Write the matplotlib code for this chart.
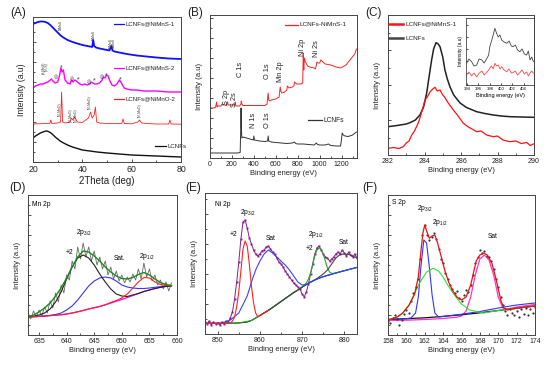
import matplotlib
matplotlib.use("Agg")
import matplotlib.pyplot as plt
from matplotlib.ticker import MultipleLocator, AutoMinorLocator

plt.rcParams["font.family"] = ["Liberation Sans", "DejaVu Sans"]
plt.rcParams["mathtext.fontset"] = "custom"
plt.rcParams["mathtext.rm"] = "Liberation Sans"
plt.rcParams["mathtext.default"] = "regular"

W, H = 554, 368

# ---------------- (A) XRD ----------------
xrd_lcnf_x = [20, 21, 22, 23, 24, 25, 25.5, 26, 27, 28, 29, 30, 31, 32, 34, 36, 38, 40, 43, 46, 50, 55, 60, 65, 70, 75, 80]
xrd_lcnf_y = [24, 26, 27.5, 29, 30, 30.8, 31, 30.7, 29.5, 27.5, 25, 23, 21, 19.5, 17, 15, 13.5, 12, 11, 10, 9, 8, 7, 6.5, 6, 5.5, 5]
xrd_nimno2_x = [20, 25, 26.8, 27.2, 27.6, 30, 31.2, 31.6, 32.0, 33, 35, 35.6, 36.2, 36.8, 37.3, 38, 40, 42.5, 43.3, 44,
                44.8, 45.3, 45.8, 47, 50, 56, 56.5, 57, 60, 62.5, 63.2, 64, 66, 70, 75, 75.5, 76, 80]
xrd_nimno2_y = [38, 38.5, 38.5, 42, 38.5, 39, 40, 70, 40, 39, 40, 44, 42, 45, 43, 40, 39.5, 44, 50, 44,
                47, 55, 40, 39, 38.5, 38.5, 43, 38.5, 38.2, 40, 42, 39, 38.5, 38, 38, 42, 38, 37.8]
xrd_nimns2_x = [20, 21, 22, 23, 24, 25, 26, 27, 27.5, 28, 29, 30, 30.8, 31.3, 31.8, 32.3, 33, 34, 35, 35.6, 36.3, 37, 38,
                39, 40, 41, 42, 43, 43.6, 44.3, 45, 46, 47, 48, 48.6, 49.2, 49.8, 50.5, 51, 52, 53, 54, 55, 55.6, 56.5,
                57, 58, 60, 62, 65, 70, 75, 80]
xrd_nimns2_y = [74, 76, 77, 78, 78, 79, 80, 82, 83, 81, 79, 80, 87, 94, 90, 92, 82, 79, 78, 82, 80, 82, 80,
                78, 77, 78, 77, 78, 80, 79, 78, 78, 79, 82, 85, 84, 87, 86, 82, 77, 76, 78, 82, 80, 76,
                74, 73, 72, 72, 71, 71, 70, 70]
xrd_nimns1_x = [20, 21, 22, 23, 24, 25, 26, 27, 28, 29, 30, 31, 32, 33, 34, 36, 38, 40, 42, 44, 44.4, 44.8, 45.5, 47,
                49, 51, 51.8, 52.2, 53, 55, 58, 62, 66, 70, 75, 80]
xrd_nimns1_y = [138, 139, 140, 140.5, 140.5, 140, 139, 137, 134.5, 132, 129.5, 127, 125, 123.5, 122, 120, 118.5, 117,
                116, 115, 122, 116, 114.5, 113.5, 112.5, 111.5, 116, 111.5, 110.5, 109.5, 108, 106.5, 105.5, 104.5,
                103.5, 103]
xrd_tags = [(31.2, 142, "NiMnS"), (44.5, 132, "NiMnS"), (51.6, 124, "NiMnS"), (52.6, 124, "NiMnS"),
            (24.3, 100, "(S,MnS)"), (25.5, 100, "(Ni,S)"), (31.0, 60, "(Ni,MnO)"), (35.4, 54, "(Ni,MnO)"),
            (37.2, 54, "(Ni,MnO)"), (43.0, 67, "(Ni,MnO)"), (63.2, 59, "(Ni,MnO)")]
xrd_circle = [(29.4, 85), (35.8, 83), (42.6, 80), (48.0, 85)]
xrd_star = [(31.4, 94), (38.5, 82), (45.0, 81), (49.8, 86), (55.2, 82)]

# ---------------- (B) XPS survey ----------------
surv_lcnf_x = [0, 50, 100, 150, 200, 250, 275, 280, 283, 286, 290, 300, 350, 395, 400, 405, 450, 500, 525, 530, 535, 560,
               600, 650, 700, 750, 770, 780, 800, 850, 900, 950, 970, 980, 1000, 1050, 1080, 1100, 1150, 1190, 1198,
               1205, 1215, 1230, 1260, 1300, 1335]
surv_lcnf_y = [5, 5, 5, 5, 5, 5, 5.5, 28, 50, 30, 20, 21, 19.5, 18, 22, 18, 17, 16.5, 17, 22, 17, 16,
               15.5, 15, 14.5, 15, 16, 14.5, 14, 14, 13.5, 13, 15, 13.5, 13, 13, 14, 12.5, 12, 12, 18,
               25, 23, 22, 21.5, 23, 26]
surv_nimns_x = [0, 30, 50, 60, 65, 70, 100, 110, 150, 160, 165, 200, 225, 230, 235, 270, 282, 285, 290, 300, 400, 500,
                520, 530, 535, 545, 560, 600, 630, 640, 645, 655, 680, 700, 705, 720, 750, 765, 770, 790, 830, 845,
                850, 855, 858, 862, 868, 875, 890, 910, 950, 960, 968, 975, 985, 1000, 1010, 1050, 1100, 1150, 1190,
                1240, 1290, 1320, 1335]
surv_nimns_y = [50, 50, 50.5, 56, 51, 52, 52, 54, 52.5, 56, 53, 53, 53, 56, 52, 52, 54, 57, 54, 52.5, 52.5, 52.5,
                54, 65, 58, 57, 58, 59, 61, 71, 67, 65, 66, 68, 72, 70, 71, 72, 76, 74, 74, 75,
                105, 88, 98, 100, 96, 95, 92, 91, 90, 89, 92, 96, 95, 95, 98, 94, 93, 91, 90,
                93, 100, 104, 109]
surv_peaks = [("S 2p", 152, 61), ("S 2s", 222, 58), ("C 1s", 275, 89), ("O 1s", 525, 87), ("Mn 2p", 640, 86),
              ("Ni 2p", 845, 111), ("Ni 2s", 975, 109), ("N 1s", 392, 38), ("O 1s", 525, 38)]

# ---------------- (C) C 1s ----------------
c1s_lcnf_x = [282, 282.5, 283.0, 283.2, 283.5, 283.75, 283.95, 284.12, 284.25, 284.39, 284.5, 284.63, 284.75, 284.85,
              285.0, 285.12, 285.25, 285.4, 285.6, 285.95, 286.3, 286.86, 287.3, 287.77, 288.2, 288.7, 289.3, 289.96]
c1s_lcnf_y = [28.3, 29.5, 31, 32.3, 35, 40, 48, 62, 78, 95, 106, 112.3, 111, 108.3, 98, 85, 76, 68, 60, 52, 47.5,
              43.3, 41.5, 40, 39, 38.3, 38, 37.7]
c1s_nimns_x = [282, 282.3, 282.6, 282.84, 283.0, 283.15, 283.3, 283.45, 283.66, 283.8, 284.03, 284.15, 284.3, 284.45,
               284.58, 284.7, 284.85, 285.0, 285.1, 285.3, 285.58, 285.8, 286.13, 286.4, 286.6, 286.86, 287.1, 287.4,
               287.77, 288.0, 288.3, 288.68, 289.0, 289.3, 289.6, 289.8, 289.96]
c1s_nimns_y = [6.7, 7.5, 6.5, 8.3, 12, 14, 20, 24, 32, 40, 55, 58, 63, 66, 67.7, 64, 65, 60, 58, 52, 45, 40, 31.7,
               28, 26, 23.3, 24, 20, 18.3, 19, 15, 13.3, 14, 11.5, 12.5, 9.5, 11]
n1s_lcnf_x = [393.9, 394.3, 394.8, 395.2, 395.7, 396.1, 396.6, 397.0, 397.5, 397.8, 398.0, 398.3, 398.6, 398.9, 399.2,
              399.5, 399.8, 400.1, 400.5, 401.0, 401.4, 401.8, 402.1, 402.5, 402.9, 403.3, 403.7, 404.1, 404.5, 404.8,
              405.1, 405.4, 405.7]
n1s_lcnf_y = [21.7, 26, 23.3, 19, 20, 26, 25, 22, 26.7, 30, 38.3, 44, 50, 56.7, 51.7, 48, 50, 45, 43, 41.7, 44, 39,
              38.3, 40, 35, 33.3, 36, 31, 30, 34, 25, 28, 23.3]
n1s_nimns_x = [393.9, 394.3, 394.8, 395.2, 395.7, 396.1, 396.6, 397.0, 397.5, 397.8, 398.0, 398.3, 398.6, 398.9, 399.2,
               399.5, 399.8, 400.1, 400.5, 401.0, 401.4, 401.8, 402.1, 402.5, 402.9, 403.3, 403.7, 404.1, 404.5,
               404.8, 405.1, 405.4, 405.7]
n1s_nimns_y = [10, 13, 9, 12, 8, 11.7, 14, 10, 13, 15, 17, 19, 16, 21.7, 19, 20, 16, 18.3, 15, 13.3, 16, 12, 12.3,
               14, 10, 12.3, 15, 11, 13, 9, 12, 14, 11.7]

# ---------------- (D) Mn 2p ----------------
mn_raw_x = [633.0, 633.5, 634.0, 634.5, 635.0, 635.5, 636.0, 636.5, 637.0, 637.5, 638.0, 638.5, 639.0, 639.5, 640.0,
            640.5, 641.0, 641.5, 642.0, 642.5, 643.0, 643.5, 644.0, 644.5, 645.0, 645.5, 646.0, 646.5, 647.0, 647.5,
            648.0, 648.5, 649.0, 649.5, 650.0, 650.5, 651.0, 651.5, 652.0, 652.5, 653.0, 653.5, 654.0, 654.5, 655.0,
            655.5, 656.0, 656.5, 657.0, 657.5, 658.0, 658.5, 659.0]
mn_raw_y = [22, 16, 24, 18, 25, 19, 28, 22, 34, 27, 42, 33, 50, 42, 60, 55, 74, 66, 88, 76, 92, 78, 88, 74, 84,
            70, 78, 66, 74, 60, 68, 56, 64, 54, 60, 52, 58, 53, 61, 55, 66, 56, 72, 58, 66, 54, 60, 50, 55, 46,
            53, 44, 52]
mn_fit_x = [633, 634, 635, 636, 637, 638, 639, 640, 641, 642, 643, 644, 645, 646, 647, 648, 649, 650, 651, 652, 653,
            654, 655, 656, 657, 658, 659]
mn_bg = [18, 18.3, 18.6, 19, 19.4, 19.8, 20.3, 21, 22, 23.2, 24.5, 26, 27.3, 28.5, 30.2, 32, 33.8, 35.5, 37.5, 39.5,
         41.5, 43.5, 45, 46.5, 47.7, 48.6, 49.2]
mn_mn2 = [18.2, 18.8, 20, 22, 26, 33, 43, 56, 68, 77, 80, 77, 70, 61, 53, 46, 41, 39, 38.5, 40, 41.5, 43.5, 45,
          46.5, 47.7, 48.6, 49.2]
mn_sat = [18, 18.3, 18.6, 19, 19.6, 20.5, 22, 25, 29, 35, 42, 49, 54, 57, 58, 57, 54, 50, 48, 47, 46.5, 46.5, 47,
          47.7, 48.3, 48.9, 49.3]
mn_p12 = [18, 18.3, 18.6, 19, 19.4, 19.8, 20.3, 21, 22, 23.2, 24.5, 26, 27.3, 28.5, 30.2, 32.5, 34.5, 37, 41, 47,
          53, 57.5, 57, 53, 50.5, 49.5, 49.5]
mn_env = [18, 20, 23, 27, 32, 39, 47, 57, 68, 78, 84, 83, 79, 74, 68, 63, 59, 56.5, 56, 57.5, 60.5, 62.5, 60, 56,
          52.5, 50.5, 49.5]

# ---------------- (E) Ni 2p ----------------
ni_raw_x = [847.0, 847.5, 848.0, 848.5, 849.0, 849.5, 850.0, 850.5, 851.0, 851.5, 852.0, 852.5, 853.0, 853.5, 854.0,
            854.5, 855.0, 855.5, 856.0, 856.5, 857.0, 857.5, 858.0, 858.5, 859.0, 859.5, 860.0, 860.5, 861.0, 861.5,
            862.0, 862.5, 863.0, 863.5, 864.0, 864.5, 865.0, 865.5, 866.0, 866.5, 867.0, 867.5, 868.0, 868.5, 869.0,
            869.5, 870.0, 870.5, 871.0, 871.5, 872.0, 872.5, 873.0, 873.5, 874.0, 874.5, 875.0, 875.5, 876.0, 876.5,
            877.0, 877.5, 878.0, 878.5, 879.0, 879.5, 880.0, 880.5, 881.0, 881.5, 882.0, 882.5, 883.0]
ni_raw_y = [12, 10, 13, 9, 12, 10, 11, 9, 12, 10, 13, 12, 16, 22, 35, 52, 72, 95, 112, 114, 106, 96, 90, 84, 80,
            78, 80, 83, 84, 87, 88, 85, 82, 80, 76, 72, 70, 67, 63, 60, 57, 54, 51, 49, 47, 45, 40, 37, 42, 50,
            60, 70, 80, 86, 88, 84, 80, 77, 76, 73, 75, 77, 80, 82, 80, 84, 81, 78, 82, 79, 77, 80, 76]
ni_bg_x = [847, 849, 851, 853, 855, 857, 858, 859, 860, 861, 862, 863, 864, 865, 866, 867, 868, 869, 870, 871, 872,
           873, 874, 875, 876, 877, 878, 879, 880, 881, 882, 883]
ni_bg = [10.7, 10.7, 10.7, 10.8, 11, 12, 13.5, 16, 18.5, 21, 23.5, 26.5, 29.5, 32.5, 35.5, 38.5, 41.5, 44, 47, 49.5,
         52, 54, 55.8, 57.3, 58.6, 59.8, 61, 62.2, 63.3, 64.4, 65.5, 66.6]
ni_sat = [10.7, 10.7, 11, 14, 21, 38, 52, 64, 73, 80, 84, 81, 77, 73, 69, 64, 58, 52, 49, 49.5, 52, 54, 55.8, 57.3,
          58.6, 59.8, 61, 62.2, 63.3, 64.4, 65.5, 66.6]
ni_p32_x = [847, 851, 853, 853.5, 854, 854.5, 855, 855.5, 856, 856.5, 857, 857.5, 858, 858.5, 859, 859.5, 860, 861, 862]
ni_p32 = [10.7, 10.7, 11, 13, 17, 27, 42, 63, 85, 93, 88, 70, 48, 31, 21, 17, 18.5, 21, 23.5]
ni_p12_x = [852, 855, 858, 860, 862, 864, 866, 868, 869, 870, 871, 871.5, 872, 872.5, 873, 873.5, 874, 874.5, 875,
            875.5, 876, 876.5, 877, 878, 879, 880, 881, 882, 883]
ni_p12 = [10.7, 11, 13.5, 18.5, 23.5, 29.5, 35.5, 41.5, 44, 47, 51, 55, 61, 69, 78, 84, 86, 85, 80, 73, 66, 62, 60.5,
          61, 62.2, 63.3, 64.4, 65.5, 66.6]
ni_sat2_x = [860, 863, 866, 869, 871, 873, 874, 875, 876, 877, 878, 879, 880, 881, 882, 883]
ni_sat2 = [18.5, 26.5, 35.5, 44, 49.5, 54, 57, 60, 64, 70, 76, 79.5, 80, 79.5, 78, 76]

# ---------------- (F) S 2p ----------------
s_raw_x = [158.0, 158.25, 158.5, 158.75, 159.0, 159.25, 159.5, 159.75, 160.0, 160.25, 160.5, 160.75, 161.0, 161.25,
           161.5, 161.75, 162.0, 162.25, 162.5, 162.75, 163.0, 163.25, 163.5, 163.75, 164.0, 164.25, 164.5, 164.75,
           165.0, 165.25, 165.5, 165.75, 166.0, 166.25, 166.5, 166.75, 167.0, 167.25, 167.5, 167.75, 168.0, 168.25,
           168.5, 168.75, 169.0, 169.25, 169.5, 169.75, 170.0, 170.25, 170.5, 170.75, 171.0, 171.25, 171.5, 171.75,
           172.0, 172.25, 172.5, 172.75, 173.0, 173.25, 173.5, 173.75, 174.0]
s_raw_y = [14, 12, 17, 20, 16, 10, 15, 21, 25, 22, 34, 42, 48, 56, 76, 100, 110, 100, 95, 98, 102, 96, 86, 76, 72,
           62, 56, 50, 46, 42, 44, 37, 34, 40, 45, 43, 50, 60, 72, 78, 85, 82, 84, 79, 78, 74, 66, 56, 48, 38,
           30, 24, 20, 26, 22, 20, 24, 18, 26, 21, 27, 20, 26, 22, 28]
s_bg_x = [158, 160, 162, 164, 166, 168, 170, 172, 174]
s_bg = [15.5, 16.3, 17.2, 18.6, 20.2, 22.2, 24.5, 26.8, 29]
s_sat_x = [158, 160, 162, 164, 165.5, 166, 166.5, 167, 167.5, 168, 168.5, 169, 169.5, 170, 170.5, 171, 172, 174]
s_sat = [14.5, 14.8, 15.5, 16.5, 17.8, 19, 24, 38, 60, 76, 80, 75, 60, 38, 27, 26, 28, 30.5]
s_p32_x = [158, 160, 160.5, 161, 161.3, 161.6, 161.9, 162.2, 162.5, 162.8, 163.1, 163.5, 164, 166, 168, 170, 172, 174]
s_p32 = [15.5, 16.3, 17, 22, 38, 70, 95, 92, 68, 40, 22, 18, 18.6, 20.8, 23.5, 27, 30, 32]
s_p12_x = [158, 159, 159.6, 160.3, 160.9, 161.5, 162.2, 162.9, 163.5, 164, 164.5, 165, 165.5, 166, 166.9, 168.4, 170,
           172, 174]
s_p12 = [15, 18, 21.7, 30, 41.7, 53, 63, 66.7, 64, 58, 50, 43, 36.7, 31, 25, 22, 24.5, 26.8, 29]
s_env_x = [158, 159, 159.6, 160.3, 160.9, 161.3, 161.6, 161.8, 162.0, 162.2, 162.5, 162.8, 163.1, 163.4, 163.8, 164.2,
           164.6, 165, 165.5, 166, 166.5, 167, 167.3, 167.6, 168, 168.4, 168.8, 169.3, 169.7, 170, 170.3, 170.6, 171,
           172, 173, 174]
s_env = [15, 18, 22, 30, 41, 58, 85, 102, 110, 104, 96.7, 99, 100, 92, 78, 64, 53, 45, 38, 35, 38, 50, 62, 74, 80,
         82, 80, 72, 58, 46, 34, 27, 25, 26.8, 28, 29]


def px_axes(fig, left, top, right, bottom):
    return fig.add_axes([left / W, 1 - bottom / H, (right - left) / W, (bottom - top) / H])


def style(ax, xlim, ylim, xmajor, xminor, ymajor, tick_size=5, xlabel="Binding energy (eV)", xl_size=5.4,
          yl_size=5.6):
    ax.set_xlim(xlim)
    ax.set_ylim(ylim)
    ax.xaxis.set_major_locator(MultipleLocator(xmajor))
    ax.xaxis.set_minor_locator(MultipleLocator(xminor))
    ax.yaxis.set_major_locator(MultipleLocator(ymajor))
    ax.yaxis.set_minor_locator(AutoMinorLocator(2))
    ax.tick_params(which="both", direction="in", top=False, right=False, labelleft=False,
                   labelsize=tick_size, pad=2, width=0.6, colors="#333333", labelcolor="#222222")
    ax.tick_params(which="major", length=2.5)
    ax.tick_params(which="minor", length=1.3)
    for s in ax.spines.values():
        s.set_linewidth(0.7)
        s.set_color("#444444")
    if xlabel:
        ax.set_xlabel(xlabel, fontsize=xl_size, labelpad=1.5, color="#222222")
    ax.set_ylabel("Intensity (a.u)", fontsize=yl_size, labelpad=5, color="#222222")


def legend_row(fig, x0, x1, y, text, color, size, lw=0.9):
    fig.add_artist(plt.Line2D([x0 / W, x1 / W], [1 - y / H, 1 - y / H], color=color, lw=lw))
    fig.text((x1 + 2) / W, 1 - y / H, text, fontsize=size, va="center", ha="left", color="#222222")


fig = plt.figure(figsize=(W / 100, H / 100), dpi=100)

# (A)
ax = px_axes(fig, 33, 17, 181, 162)
ax.plot(xrd_lcnf_x, xrd_lcnf_y, color="#111111", lw=1.0)
ax.plot(xrd_nimno2_x, xrd_nimno2_y, color="#FF2222", lw=0.6)
ax.plot(xrd_nimns2_x, xrd_nimns2_y, color="#FF00FF", lw=1.0)
ax.plot(xrd_nimns1_x, xrd_nimns1_y, color="#1010FF", lw=1.3)
style(ax, (20, 80), (0, 145), 20, 10, 20, tick_size=6.3, xlabel="2Theta (deg)", xl_size=7, yl_size=6.2)
for xx, yy, t in xrd_tags:
    ax.text(xx, yy, t, rotation=90, fontsize=2.4, ha="center", va="top", color="#333333")
for xx, yy in xrd_circle:
    ax.text(xx, yy, "◎", fontsize=3.5, ha="center", va="center", color="#333333")
for xx, yy in xrd_star:
    ax.text(xx, yy, "*", fontsize=5, ha="center", va="center", color="#333333")
legend_row(fig, 114, 124, 24, "LCNFs@NiMnS-1", "#1010FF", 4.4)
legend_row(fig, 114, 124, 68, "LCNFs@NiMnS-2", "#FF00FF", 4.4)
legend_row(fig, 114, 124, 99, "LCNFs@NiMnO-2", "#FF2222", 4.4)
legend_row(fig, 155, 166, 146, "LCNFs", "#111111", 4.4)

# (B)
ax = px_axes(fig, 210, 15, 357, 158)
ax.plot(surv_lcnf_x, surv_lcnf_y, color="#333333", lw=0.7)
ax.plot(surv_nimns_x, surv_nimns_y, color="#FF2222", lw=0.7)
style(ax, (0, 1340), (0, 143), 200, 100, 20)
for t, xx, yy in surv_peaks:
    ax.text(xx, yy, t, rotation=90, fontsize=5.3, ha="center", va="center", color="#222222")
legend_row(fig, 285, 298, 25, "LCNFs-NiMnS-1", "#FF2222", 4.6)
legend_row(fig, 308, 322, 120, "LCNFs", "#333333", 4.8)

# (C)
ax = px_axes(fig, 388, 15, 534, 155)
ax.plot(c1s_lcnf_x, c1s_lcnf_y, color="#222222", lw=1.1)
ax.plot(c1s_nimns_x, c1s_nimns_y, color="#FF1111", lw=0.9)
style(ax, (282, 290), (0, 140), 2, 1, 35)
legend_row(fig, 389, 403, 24, "LCNFs@NiMnS-1", "#FF1111", 4.6, lw=1.8)
legend_row(fig, 389, 403, 38, "LCNFs", "#444444", 4.6, lw=1.8)

ins = px_axes(fig, 466, 18, 534, 85)
ins.plot(n1s_lcnf_x, n1s_lcnf_y, color="#444444", lw=0.6)
ins.plot(n1s_nimns_x, n1s_nimns_y, color="#FF4444", lw=0.6)
ins.set_xlim(393.8, 405.8)
ins.set_ylim(0, 67)
ins.xaxis.set_major_locator(MultipleLocator(2))
ins.yaxis.set_major_locator(MultipleLocator(12))
ins.tick_params(direction="in", length=1.5, width=0.5, labelsize=3, pad=1.5, labelleft=False,
                top=False, right=False)
for s in ins.spines.values():
    s.set_linewidth(0.6)
    s.set_color("#444444")
ins.set_xlabel("Binding energy (eV)", fontsize=4, labelpad=1.5)
ins.set_ylabel("Intensity (a.u)", fontsize=3.5, labelpad=2)

# (D)
ax = px_axes(fig, 28, 195, 177, 335)
ax.plot(mn_raw_x, mn_raw_y, color="#666666", lw=0.6)
ax.plot(mn_fit_x, mn_bg, color="#FF00FF", lw=0.9)
ax.plot(mn_fit_x, mn_sat, color="#3333FF", lw=0.8)
ax.plot(mn_fit_x, mn_mn2, color="#222222", lw=0.8)
ax.plot(mn_fit_x, mn_p12, color="#FF2222", lw=0.8)
ax.plot(mn_fit_x, mn_env, color="#1E8A1E", lw=1.0)
style(ax, (633, 660), (0, 140), 5, 2.5, 20)
ax.text(633.8, 131, "Mn 2p", fontsize=4.8, ha="left", va="center")
ax.text(643.2, 102, "2p$_{3/2}$", fontsize=4.8, ha="center", va="center")
ax.text(640.5, 83, "+2", fontsize=4.8, ha="center", va="center")
ax.text(649.6, 77, "Sat.", fontsize=4.8, ha="center", va="center")
ax.text(654.5, 79, "2p$_{1/2}$", fontsize=4.8, ha="center", va="center")

# (E)
ax = px_axes(fig, 205, 193, 357, 334)
ax.plot(ni_raw_x, ni_raw_y, color="#8A1C8A", lw=0.7, marker="s", ms=1.4, mew=0)
ax.plot(ni_bg_x, ni_bg, color="#111111", lw=0.8)
ax.plot(ni_p12_x, ni_p12, color="#22AA22", lw=0.8)
ax.plot(ni_sat2_x, ni_sat2, color="#444444", lw=0.8)
ax.plot(ni_bg_x, ni_sat, color="#3344FF", lw=0.8)
ax.plot(ni_p32_x, ni_p32, color="#FF2222", lw=0.8)
style(ax, (847, 883), (0, 141), 10, 5, 30)
ax.text(851.2, 129, "Ni 2p", fontsize=4.8, ha="center", va="center")
ax.text(857.1, 121, "2p$_{3/2}$", fontsize=4.8, ha="center", va="center")
ax.text(853.8, 99, "+2", fontsize=4.8, ha="center", va="center")
ax.text(862.5, 96, "Sat", fontsize=4.8, ha="center", va="center")
ax.text(873.3, 99, "2p$_{1/2}$", fontsize=4.8, ha="center", va="center")
ax.text(871.7, 85, "+2", fontsize=4.8, ha="center", va="center")
ax.text(879.9, 91, "Sat", fontsize=4.8, ha="center", va="center")

# (F)
ax = px_axes(fig, 388, 195, 535, 335)
ax.plot(s_sat_x, s_sat, color="#FF33CC", lw=0.9)
ax.plot(s_bg_x, s_bg, color="#111111", lw=0.9)
ax.plot(s_p32_x, s_p32, color="#3333FF", lw=0.8)
ax.plot(s_p12_x, s_p12, color="#33DD33", lw=0.8)
ax.plot(s_raw_x, s_raw_y, color="#333333", lw=0.5, ls="none", marker="o", ms=1.6, mew=0)
ax.plot(s_env_x, s_env, color="#EE1111", lw=0.9)
style(ax, (158, 174), (0, 140), 2, 1, 20)
ax.text(158.4, 133, "S 2p", fontsize=4.8, ha="left", va="center")
ax.text(162.0, 126, "2p$_{3/2}$", fontsize=4.8, ha="center", va="center")
ax.text(163.6, 112, "2p$_{1/2}$", fontsize=4.8, ha="center", va="center")
ax.text(169.4, 98, "Sat", fontsize=4.8, ha="center", va="center")

for lbl, x, y in [("(A)", 18, 13), ("(B)", 195, 13), ("(C)", 374, 13),
                  ("(D)", 17, 188), ("(E)", 193, 188), ("(F)", 370, 188)]:
    fig.text(x / W, 1 - y / H, lbl, fontsize=8.5, ha="center", va="center", color="#222222")

fig.savefig("out.png", dpi=100)
plt.close(fig)
